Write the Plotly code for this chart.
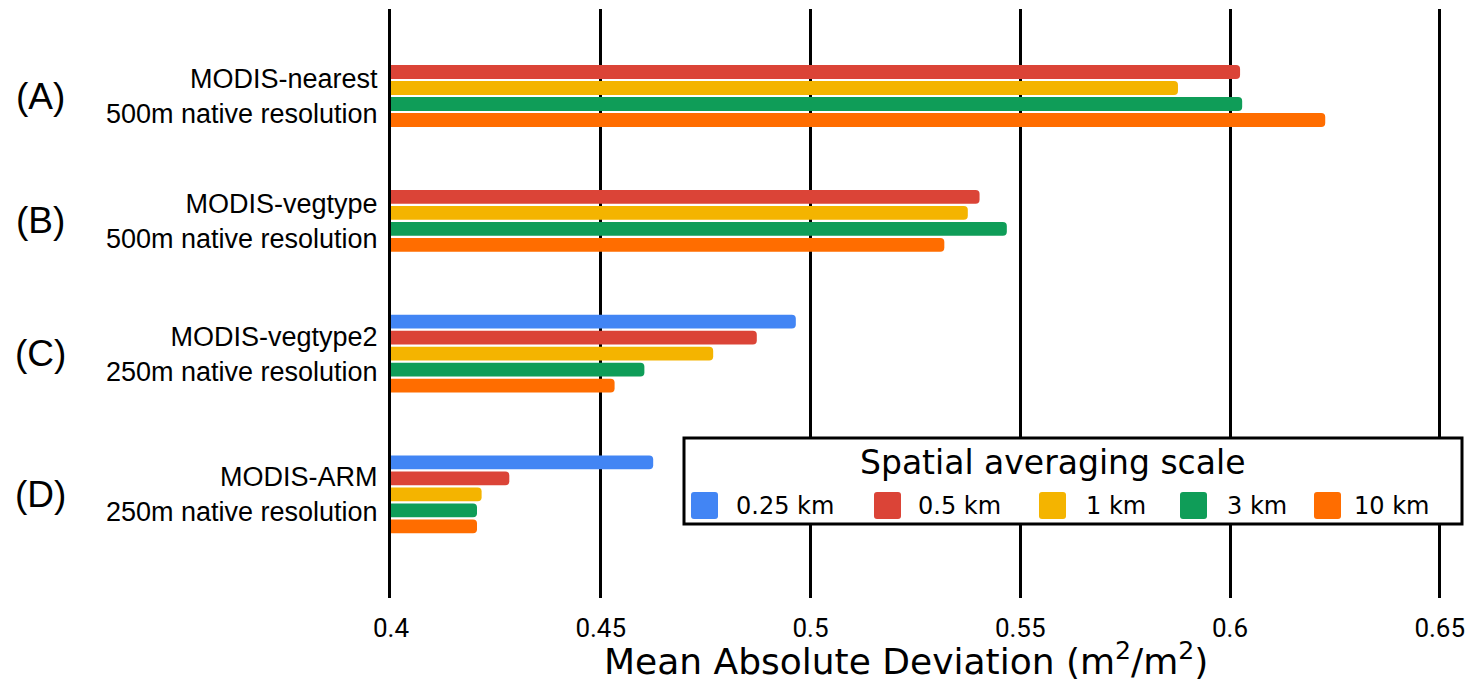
import plotly.graph_objects as go

# ---------------- data ----------------
panel_tags = ["(A)", "(B)", "(C)", "(D)"]
products = ["MODIS-nearest", "MODIS-vegtype", "MODIS-vegtype2", "MODIS-ARM"]
resolutions = ["500m native resolution", "500m native resolution",
               "250m native resolution", "250m native resolution"]
scales = ["0.25 km", "0.5 km", "1 km", "3 km", "10 km"]
mad_025km = [None, None, 0.4965, 0.4625]
mad_05km = [0.6024, 0.5403, 0.4872, 0.4282]
mad_1km = [0.5876, 0.5375, 0.4768, 0.4216]
mad_3km = [0.6029, 0.5468, 0.4604, 0.4205]
mad_10km = [0.6227, 0.5319, 0.4533, 0.4205]
x_ticks = [0.4, 0.45, 0.5, 0.55, 0.6, 0.65]
x_tick_labels = ["0.4", "0.45", "0.5", "0.55", "0.6", "0.65"]
x_title = "Mean Absolute Deviation (m<sup>2</sup>/m<sup>2</sup>)"
legend_title = "Spatial averaging scale"

series = [mad_025km, mad_05km, mad_1km, mad_3km, mad_10km]
colors = ["#4285F4", "#DB4437", "#F4B400", "#0F9D58", "#FF6D00"]

# ---------------- layout helpers ----------------
W, H = 1472, 683
ML, MR, MT, MB = 391, 0, 9, 85
PW, PH = W - ML - MR, H - MT - MB
GAP = 4.8          # slot distance between last bar of a group and first of next
SLOT_PX = 16.0

# categorical row positions (slot units) derived from the data structure
positions = {}
centers = []
y = 0.0
for g in range(len(products)):
    present = [s for s in range(len(series)) if series[s][g] is not None]
    for k, s in enumerate(present):
        positions[(s, g)] = y + k
    centers.append(y + (len(present) - 1) / 2)
    y += (len(present) - 1) + GAP

y_top = -63.0 / SLOT_PX
y_bot = y_top + PH / SLOT_PX


def px_x(px):
    return (px - ML) / PW


def px_y(py):
    return (H - MB - py) / PH


def P(px, py):
    return f"{px_x(px)},{px_y(py)}"


fig = go.Figure()
for s, (name, vals, col) in enumerate(zip(scales, series, colors)):
    ys, xs = [], []
    for g, v in enumerate(vals):
        if v is not None:
            ys.append(positions[(s, g)])
            xs.append(v)
    fig.add_trace(go.Bar(
        x=xs, y=ys, orientation="h", name=name,
        marker=dict(color=col, line=dict(width=0), cornerradius=4),
        width=0.86, showlegend=False,
    ))

# panel tags
for g, tag in enumerate(panel_tags):
    fig.add_annotation(x=px_x(40), xref="paper", y=centers[g], yref="y",
                       text=tag, showarrow=False, xanchor="center", yanchor="middle",
                       font=dict(family="Liberation Sans, Arial", size=37, color="black"))

# manual legend
shapes = [dict(type="rect", xref="paper", yref="paper",
               x0=px_x(684), x1=px_x(1462), y0=px_y(524), y1=px_y(438),
               line=dict(color="black", width=3), fillcolor="white", layer="above")]
sq_left = [691, 874, 1039, 1180, 1314]
lab_left = [734, 916, 1084, 1225, 1352]
for i, (name, col) in enumerate(zip(scales, colors)):
    x0, x1 = sq_left[i], sq_left[i] + 27
    y0, y1 = 492, 519
    r = 3
    path = (f"M {P(x0 + r, y0)} L {P(x1 - r, y0)} Q {P(x1, y0)} {P(x1, y0 + r)} "
            f"L {P(x1, y1 - r)} Q {P(x1, y1)} {P(x1 - r, y1)} "
            f"L {P(x0 + r, y1)} Q {P(x0, y1)} {P(x0, y1 - r)} "
            f"L {P(x0, y0 + r)} Q {P(x0, y0)} {P(x0 + r, y0)} Z")
    shapes.append(dict(type="path", xref="paper", yref="paper", layer="above",
                       path=path, line=dict(width=0), fillcolor=col))
    fig.add_annotation(x=px_x(lab_left[i]), xref="paper", y=px_y(506), yref="paper",
                       text=name, showarrow=False, xanchor="left", yanchor="middle",
                       font=dict(family="DejaVu Sans", size=24, color="black"))
fig.add_annotation(x=px_x(1052), xref="paper", y=px_y(463), yref="paper",
                   text=legend_title, showarrow=False,
                   xanchor="center", yanchor="middle",
                   font=dict(family="DejaVu Sans", size=33, color="black"))

# x-axis title (offset left of the plot centre as in the reference)
fig.add_annotation(x=px_x(906), xref="paper", y=px_y(659), yref="paper",
                   text=x_title, showarrow=False, xanchor="center", yanchor="middle",
                   font=dict(family="DejaVu Sans", size=36, color="black"))

fig.update_layout(
    width=W, height=H,
    margin=dict(l=ML, r=MR, t=MT, b=MB, autoexpand=False),
    paper_bgcolor="white", plot_bgcolor="white",
    barmode="overlay",
    shapes=shapes,
    xaxis=dict(
        range=[0.4, 0.4 + PW / 4195.0],
        tickvals=x_ticks, ticktext=x_tick_labels,
        showgrid=True, gridcolor="black", gridwidth=3,
        zeroline=False, showline=False, ticks="",
        ticklabelstandoff=12,
        tickfont=dict(family="Roboto", size=26, color="black"),
    ),
    yaxis=dict(
        range=[y_bot, y_top],
        tickvals=centers,
        ticktext=[f"{p}<br>{r}" for p, r in zip(products, resolutions)],
        showgrid=False, zeroline=False,
        showline=True, linecolor="black", linewidth=3,
        ticks="", ticklabelstandoff=5,
        tickfont=dict(family="Liberation Sans, Arial", size=27, color="black"),
    ),
)

fig.write_html(
    "out.html",
    config={"displayModeBar": False},
    post_script="document.body.style.margin='0px';document.body.style.overflow='hidden';",
)
